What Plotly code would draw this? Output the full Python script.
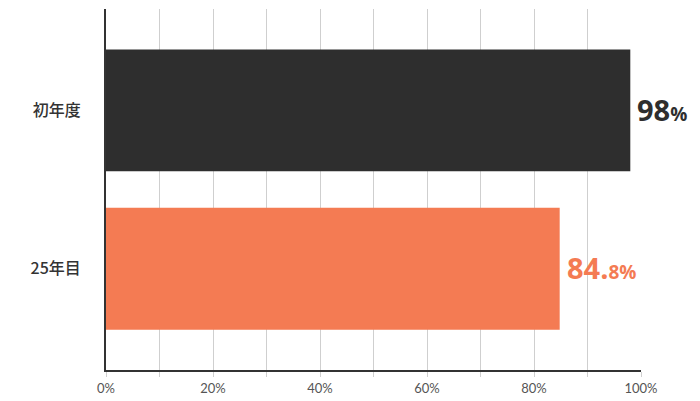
import plotly.graph_objects as go

categories = ['初年度', '25年目']
values = [98, 84.8]
label_main = ['98', '84.']
label_small = ['%', '8%']
colors = ['#2e2e2e', '#f47b53']
xtick_vals = [0, 20, 40, 60, 80, 100]
xtick_text = ['0%', '20%', '40%', '60%', '80%', '100%']

fig = go.Figure()

fig.add_trace(go.Bar(
    y=categories,
    x=values,
    orientation='h',
    marker=dict(color=colors, line=dict(width=0)),
    width=0.77,
    hoverinfo='skip',
))

for cat, val, big, small, col in zip(categories, values, label_main, label_small, colors):
    fig.add_annotation(
        x=val, y=cat,
        xref='x', yref='y',
        xanchor='left', yanchor='middle',
        xshift=5, yshift=1,
        showarrow=False,
        text="<b>%s</b><span style='font-size:19px'><b>%s</b></span>" % (big, small),
        font=dict(family='Open Sans, sans-serif', size=29, color=col),
    )

fig.update_xaxes(
    range=[0, 100],
    tickvals=xtick_vals,
    ticktext=xtick_text,
    showgrid=True,
    gridcolor='#cfcfcf',
    gridwidth=1,
    minor=dict(dtick=10, showgrid=True, gridcolor='#cfcfcf', gridwidth=1,
               ticks='outside', ticklen=5, tickcolor='#cfcfcf'),
    ticks='outside', ticklen=5, tickcolor='#cfcfcf',
    showline=True, linecolor='#333333', linewidth=2,
    zeroline=False,
    tickfont=dict(family='Lato, sans-serif', size=13, color='#555555'),
    automargin=False,
    fixedrange=True,
)

fig.update_yaxes(
    range=[1.64, -0.64],
    showgrid=False,
    showline=True, linecolor='#333333', linewidth=2,
    ticks='',
    ticklabelstandoff=20,
    tickfont=dict(family='Noto Sans CJK JP, sans-serif', size=16, color='#333333', weight=500),
    automargin=False,
    fixedrange=True,
)

# page body has an 8px margin, so the figure is sized to fit the window
fig.update_layout(
    width=692, height=393,
    margin=dict(l=98, r=59, t=1, b=31),
    plot_bgcolor='white',
    paper_bgcolor='white',
    showlegend=False,
)

fig.write_html("out.html")
